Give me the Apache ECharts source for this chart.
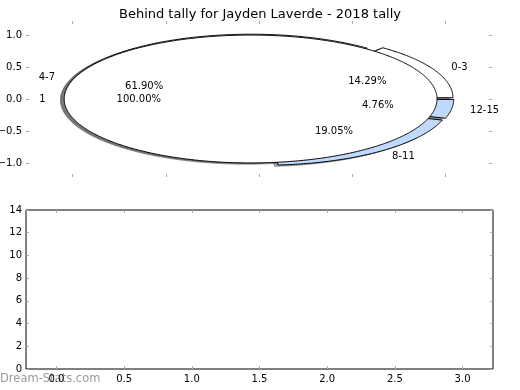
<!DOCTYPE html>
<html>
<head>
<meta charset="utf-8">
<script src="https://cdn.jsdelivr.net/npm/echarts@6/dist/echarts.min.js"></script>
<style>html,body{margin:0;padding:0;background:#fff;}#c{width:520px;height:390px;}</style>
</head>
<body>
<div id="c"></div>
<script>
const chartTitle = 'Behind tally for Jayden Laverde - 2018 tally';
const outerCategories = ['0-3', '4-7', '8-11', '12-15'];
const outerCounts = [3, 13, 4, 1];
const innerCategories = ['1'];
const innerCounts = [21];
const pieTickValues = [-1, -0.5, 0, 0.5, 1];
const barXTickValues = [0, 0.5, 1, 1.5, 2, 2.5, 3];
const barYTickValues = [0, 2, 4, 6, 8, 10, 12, 14];
const watermark = 'Dream-Stats.com';

// styles (kept separate from data)
const outerColors = ['#ffffff', '#ffffff', '#c0d9ff', '#c0d9ff'];
const innerColors = ['#ffffff'];
const FONT = 'DejaVu Sans';
const EXPLODE = 0.045, RADIUS = 1, SHADOW_OFF = -0.02;

function makeWedges(cats, counts, colors) {
  const total = counts.reduce((a, b) => a + b, 0);
  let acc = 0;
  return counts.map((v, i) => {
    const t1 = acc / total * 2 * Math.PI;
    acc += v;
    const t2 = acc / total * 2 * Math.PI;
    const mid = (t1 + t2) / 2;
    return { name: cats[i], t1, t2, mid, pct: v / total * 100, color: colors[i],
      cx: EXPLODE * Math.cos(mid), cy: EXPLODE * Math.sin(mid) };
  });
}
const outerW = makeWedges(outerCategories, outerCounts, outerColors);
const innerW = makeWedges(innerCategories, innerCounts, innerColors);
const allW = outerW.concat(innerW);

function wedgePoints(api, w, dx, dy) {
  const pts = [];
  const full = (w.t2 - w.t1) >= 2 * Math.PI - 1e-9;
  const cx = w.cx + dx, cy = w.cy + dy;
  if (!full) pts.push(api.coord([cx, cy]));
  const n = Math.max(6, Math.ceil((w.t2 - w.t1) / (Math.PI / 360)));
  for (let k = 0; k <= n; k++) {
    const t = w.t1 + (w.t2 - w.t1) * k / n;
    pts.push(api.coord([cx + RADIUS * Math.cos(t), cy + RADIUS * Math.sin(t)]));
  }
  return pts;
}

function wedgeSeries(list, shadow, z) {
  return {
    type: 'custom', coordinateSystem: 'cartesian2d', xAxisIndex: 0, yAxisIndex: 0,
    z: z, silent: true, clip: false,
    data: list.map((w, i) => [i]),
    renderItem: function (params, api) {
      const w = list[params.dataIndex];
      if (shadow) {
        return { type: 'polygon', shape: { points: wedgePoints(api, w, SHADOW_OFF, SHADOW_OFF) },
          style: { fill: 'rgba(77,77,77,0.5)', stroke: 'rgba(77,77,77,0.5)', lineWidth: 1 } };
      }
      return { type: 'polygon', shape: { points: wedgePoints(api, w, 0, 0) },
        style: { fill: w.color, stroke: '#000', lineWidth: 1 } };
    }
  };
}

const labelItems = [];
allW.forEach(w => {
  const lx = w.cx + 1.1 * RADIUS * Math.cos(w.mid);
  const ly = w.cy + 1.1 * RADIUS * Math.sin(w.mid);
  labelItems.push({ x: lx, y: ly, text: w.name, align: lx > 0 ? 'left' : 'right' });
  const px = w.cx + 0.6 * RADIUS * Math.cos(w.mid);
  const py = w.cy + 0.6 * RADIUS * Math.sin(w.mid);
  labelItems.push({ x: px, y: py, text: w.pct.toFixed(2) + '%', align: 'center' });
});

const tickStyle = { show: true, inside: true, length: 3, lineStyle: { color: '#aaa', width: 1 } };
const lblStyle = { color: '#000', fontFamily: FONT, fontSize: 10 };
const noLine = { show: false, onZero: false };
const fmt1 = v => (v < 0 ? '\u2212' : '') + Math.abs(v).toFixed(1);

const option = {
  animation: false,
  backgroundColor: '#fff',
  title: { text: chartTitle, left: 'center', top: 3,
    textStyle: { fontFamily: FONT, fontSize: 13, fontWeight: 'normal', color: '#000' } },
  graphic: [{ type: 'text', left: 0, top: 373,
    style: { text: watermark, fill: '#999', font: '11.5px ' + FONT } }],
  grid: [
    { left: 26, right: 28, top: 21, height: 156, show: false, outerBoundsMode: 'none', containLabel: false },
    { left: 26, right: 27, top: 210, height: 159, show: true, borderColor: '#000', borderWidth: 1, backgroundColor: 'transparent', outerBoundsMode: 'none', containLabel: false }
  ],
  xAxis: [
    { gridIndex: 0, type: 'value', position: 'bottom', min: -1.25, max: 1.25,
      axisLine: noLine, splitLine: { show: false },
      axisTick: Object.assign({ customValues: pieTickValues }, tickStyle), axisLabel: { show: false } },
    { gridIndex: 0, type: 'value', position: 'top', min: -1.25, max: 1.25,
      axisLine: noLine, splitLine: { show: false },
      axisTick: Object.assign({ customValues: pieTickValues }, tickStyle), axisLabel: { show: false } },
    { gridIndex: 1, type: 'value', position: 'bottom', min: -0.225, max: 3.225,
      axisLine: noLine, splitLine: { show: false },
      axisTick: Object.assign({ customValues: barXTickValues }, tickStyle),
      axisLabel: Object.assign({ customValues: barXTickValues, formatter: fmt1, margin: 5, showMinLabel: true, showMaxLabel: true }, lblStyle) },
    { gridIndex: 1, type: 'value', position: 'top', min: -0.225, max: 3.225,
      axisLine: noLine, splitLine: { show: false },
      axisTick: Object.assign({ customValues: barXTickValues }, tickStyle), axisLabel: { show: false } }
  ],
  yAxis: [
    { gridIndex: 0, type: 'value', position: 'left', min: -1.22, max: 1.22,
      axisLine: noLine, splitLine: { show: false },
      axisTick: Object.assign({ customValues: pieTickValues }, tickStyle),
      axisLabel: Object.assign({ customValues: pieTickValues, formatter: fmt1, margin: 4 }, lblStyle) },
    { gridIndex: 0, type: 'value', position: 'right', min: -1.22, max: 1.22,
      axisLine: noLine, splitLine: { show: false },
      axisTick: Object.assign({ customValues: pieTickValues }, tickStyle), axisLabel: { show: false } },
    { gridIndex: 1, type: 'value', position: 'left', min: 0, max: 14,
      axisLine: noLine, splitLine: { show: false },
      axisTick: Object.assign({ customValues: barYTickValues }, tickStyle),
      axisLabel: Object.assign({ customValues: barYTickValues, margin: 4, showMinLabel: true, showMaxLabel: true }, lblStyle) },
    { gridIndex: 1, type: 'value', position: 'right', min: 0, max: 14,
      axisLine: noLine, splitLine: { show: false },
      axisTick: Object.assign({ customValues: barYTickValues }, tickStyle), axisLabel: { show: false } }
  ],
  series: [
    wedgeSeries(allW, true, 1),
    wedgeSeries(outerW, false, 2),
    wedgeSeries(innerW, false, 3),
    {
      type: 'custom', coordinateSystem: 'cartesian2d', xAxisIndex: 0, yAxisIndex: 0,
      z: 5, silent: true, clip: false,
      data: labelItems.map((l, i) => [i]),
      renderItem: function (params, api) {
        const l = labelItems[params.dataIndex];
        const p = api.coord([l.x, l.y]);
        return { type: 'text', x: p[0], y: p[1],
          style: { text: l.text, fill: '#000', font: '10px ' + FONT, align: l.align, verticalAlign: 'middle' } };
      }
    },
    { type: 'line', xAxisIndex: 2, yAxisIndex: 2, data: [] }
  ]
};
const chart = echarts.init(document.getElementById('c'), null, { renderer: 'canvas' });
chart.setOption(option);
</script>
</body>
</html>
